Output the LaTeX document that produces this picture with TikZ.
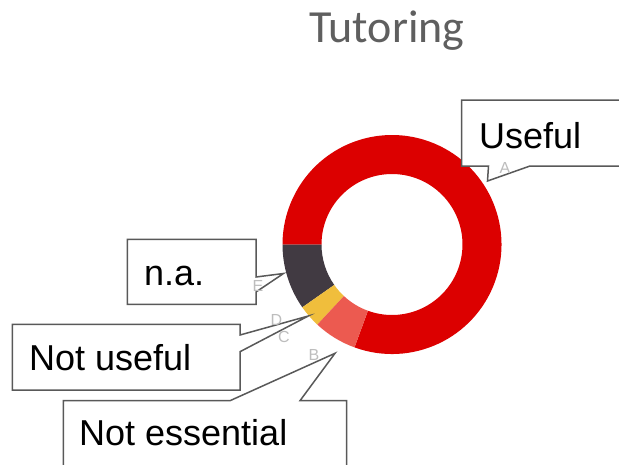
\documentclass[tikz,border=0pt]{standalone}
\usepackage{fontspec}
\setmainfont{Liberation Sans}
\newfontfamily\titlefont{Carlito}
\usetikzlibrary{calc}
\definecolor{ringred}{HTML}{DC0000}
\definecolor{ringdark}{HTML}{413A42}
\definecolor{ringyellow}{HTML}{F0BE3C}
\definecolor{ringsalmon}{HTML}{EC5A50}
\definecolor{titlegray}{HTML}{5F5F5F}
\definecolor{boxline}{HTML}{595959}
\definecolor{lettergray}{HTML}{BDBDBD}
\tikzset{
  callout/.style={draw=boxline, line width=1.5pt, fill=white, line join=miter},
  bigtext/.style={anchor=base west, inner sep=0pt, font=\fontsize{36}{40}\selectfont},
  letter/.style={inner sep=0pt, text=lettergray, font=\fontsize{16}{17}\selectfont},
}
% draws one ring sector between two angles
\newcommand{\ringpart}[3]{%
  \fill[#1] ($(O)+(#2:109.5)$) arc[start angle=#2, end angle=#3, radius=109.5]
    -- ($(O)+(#3:70.5)$) arc[start angle=#3, end angle=#2, radius=70.5] -- cycle;}
\begin{document}
\begin{tikzpicture}[x=1pt, y=-1pt]
\useasboundingbox (0,0) rectangle (619,464);
\clip (0,0) rectangle (619,464);
\fill[white] (0,0) rectangle (619,464);

% title
\node[anchor=base west, inner sep=0pt, text=titlegray,
      font=\titlefont\fontsize{46}{50}\selectfont] (title) at (309,42.7) {Tutoring};

% donut
\coordinate (O) at (392,244.5);
\ringpart{ringred}{110}{-180}
\ringpart{ringdark}{180}{145}
\ringpart{ringyellow}{145}{133}
\ringpart{ringsalmon}{133}{110}

% pointer tips
\coordinate (tipA) at (487.5,181);
\coordinate (tipE) at (283.5,273.5);
\coordinate (tipD) at (308.3,316);
\coordinate (tipB) at (335,353.3);

% callout outlines
\draw[callout] (640,100) -- (461.7,100) -- (461.7,166) -- (488.5,166)
  -- (tipA) -- (530,166) -- (640,166);
\draw[callout] (256,277) -- (256,239.3) -- (127.3,239.3) -- (127.3,304.3)
  -- (256,304.3) -- (256,292) -- (tipE) -- cycle;
\draw[callout] (240,335) -- (240,324.3) -- (12.3,324.3) -- (12.3,390)
  -- (240,390) -- (240,351.7) -- (tipD) -- cycle;
\draw[callout] (230,400.7) -- (63.3,400.7) -- (63.3,480) -- (346.7,480)
  -- (346.7,400.7) -- (300,400.7) -- (tipB) -- cycle;

% sector letters
\node[letter] (la) at (505,167.5) {A};
\node[letter] (lb) at (314,355) {B};
\node[letter] (lc) at (284,337) {C};
\node[letter] (ld) at (276.5,319.5) {D};
\node[letter] (le) at (258,286) {E};

% callout texts
\node[bigtext] (useful) at (479,148) {Useful};
\node[bigtext] (na) at (144,285) {n.a.};
\node[bigtext] (notuseful) at (29,370) {Not useful};
\node[bigtext] (notess) at (79,445) {Not essential};
\end{tikzpicture}
\end{document}
